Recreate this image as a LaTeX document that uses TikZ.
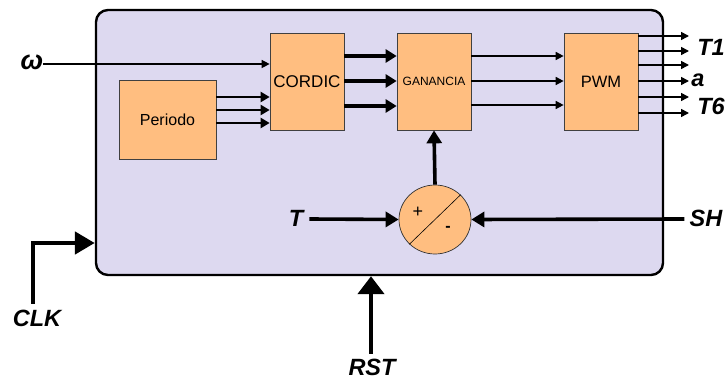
\documentclass[tikz,border=0pt]{standalone}
\usepackage{fontspec}
\setmainfont{Liberation Sans}
\usetikzlibrary{arrows.meta,shapes.geometric}
\definecolor{lav}{RGB}{221,217,240}
\definecolor{org}{RGB}{255,190,128}
\tikzset{
  blk/.style={draw=black!75,fill=org,line width=0.7pt,minimum width=74pt,minimum height=97pt,inner sep=0pt},
  lbl/.style={font=\bfseries\itshape\fontsize{23.5}{24}\selectfont,inner sep=0pt},
  thin/.style={line width=1.6pt,-{Triangle[length=8pt,width=8pt]}},
  med/.style={line width=2.6pt,-{Triangle[length=9pt,width=10pt]}},
  fat/.style={line width=4.2pt,-{Triangle[length=11pt,width=13pt]}},
  thk/.style={line width=3.6pt,-{Triangle[length=13pt,width=15pt]}},
  big/.style={line width=4.8pt,-{Triangle[length=20pt,width=22pt]}},
}
\begin{document}
\begin{tikzpicture}[x=1pt,y=-1pt]
\useasboundingbox (0,0) rectangle (726,379);
% main box
\node[draw=black,fill=lav,line width=2.4pt,rounded corners=12pt,minimum width=567pt,minimum height=265pt,inner sep=0pt] (main) at (379.5,142.5) {};
% blocks
\node[blk,minimum width=97pt,minimum height=79pt,font=\fontsize{16}{16}\selectfont] (per) at (167.5,119.5) {Periodo};
\node[blk,font=\fontsize{17}{17}\selectfont] (cor) at (307,81.5) {CORDIC};
\node[blk,font=\fontsize{12}{12}\selectfont] (gan) at (434,81.5) {GANANCIA};
\node[blk,font=\fontsize{16.5}{17}\selectfont] (pwm) at (601,81.5) {PWM};
\node[draw=black!80,fill=org,ellipse,line width=0.7pt,minimum width=72pt,minimum height=69pt,inner sep=0pt] (sum) at (435,219.5) {};
\draw[line width=0.6pt] (sum.224) -- (sum.44);
\node[font=\fontsize{18}{18}\selectfont,inner sep=0pt] (plus) at (418,212) {+};
\node[font=\bfseries\fontsize{16}{16}\selectfont,inner sep=0pt] (minus) at (448,229) {-};
% labels
\node[font=\bfseries\itshape\fontsize{27}{27}\selectfont,inner sep=0pt] (w) at (32,62) {ω};
\node[lbl] (Tl) at (296,218) {T};
\node[lbl] (SHl) at (706,218) {SH};
\node[lbl] (CLKl) at (37,318) {CLK};
\node[lbl] (RSTl) at (372,367) {RST};
\node[lbl] (T1l) at (711,47) {T1};
\node[lbl] (al) at (698,80) {a};
\node[lbl] (T6l) at (711,106) {T6};
% omega input
\draw[line width=1.4pt,-{Triangle[length=8pt,width=8pt]}] (w.east |- 0,64) -- (cor.west |- 0,64);
% periodo -> cordic
\foreach \y in {97,110,123} \draw[med] (per.east |- 0,\y) -- (cor.west |- 0,\y);
% cordic -> ganancia
\foreach \y in {56,81,106} \draw[fat] (cor.east |- 0,\y) -- (gan.west |- 0,\y);
% ganancia -> pwm
\foreach \y in {56,81,105} \draw[thin] (gan.east |- 0,\y) -- (pwm.west |- 0,\y);
% pwm outputs
\foreach \y in {36,51,65,81,97,113} {
  \coordinate (o\y) at (689,\y);
  \draw[thin] (pwm.east |- o\y) -- (o\y);
}
% sum
\draw[thk] (sum.north) -- (gan.south);
\draw[thk] (Tl.east) ++(6,1) coordinate (tS) (tS) -- (sum.west);
\draw[thk] (SHl.west) ++(-5,1) coordinate (shS) (shS) -- (sum.east);
% CLK
\coordinate (clk0) at (33,304);
\coordinate (clkc) at (33,243);
\draw[big] (clk0) -- (clkc) -- (main.west |- clkc);
% RST
\coordinate (rst0) at (371,354);
\draw[line width=4.8pt,-{Triangle[length=18pt,width=26pt]}] (rst0) -- (main.south -| rst0);
\end{tikzpicture}
\end{document}
